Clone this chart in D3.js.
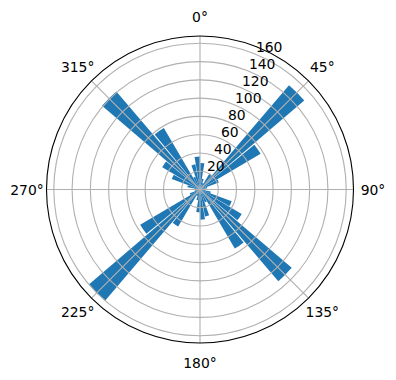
<!DOCTYPE html>
<html>
<head>
<meta charset="utf-8">
<script src="https://cdn.jsdelivr.net/npm/d3@7"></script>
<style>
  html, body { margin: 0; padding: 0; background: #fff; }
  svg text { font-family: "DejaVu Sans", sans-serif; }
</style>
</head>
<body>
<div id="container"></div>
<script>
const width = 396;
const height = 380;
const cx = 200;
const cy = 189.5;
const outerR = 153.5;

// bin centres (degrees, clockwise from north) and counts
const binCenters = [5, 15, 25, 35, 45, 55, 65, 75, 85, 95, 105, 115,
  125, 135, 145, 155, 165, 175, 185, 195, 205, 215, 225, 235,
  245, 255, 265, 275, 285, 295, 305, 315, 325, 335, 345, 355];
const counts = [29, 12, 8, 20, 150, 77, 22, 8, 5, 6, 12, 37,
  53, 132, 75, 15, 30, 33, 25, 12, 8, 47, 160, 76,
  12, 6, 5, 6, 14, 33, 48, 141, 78, 15, 28, 36];
const binWidth = 9; // degrees
const rTicks = [20, 40, 60, 80, 100, 120, 140, 160];
const thetaTicks = [0, 45, 90, 135, 180, 225, 270, 315];
const rMax = 168;

const rad = d => d * Math.PI / 180;

const r = d3.scaleLinear().domain([0, rMax]).range([0, outerR]);

const svg = d3.select("#container")
  .append("svg")
  .attr("width", width)
  .attr("height", height);

const g = svg.append("g").attr("transform", `translate(${cx},${cy})`);

const arc = d3.arc()
  .innerRadius(0)
  .outerRadius(d => r(d.v))
  .startAngle(d => rad(d.c - binWidth / 2))
  .endAngle(d => rad(d.c + binWidth / 2));

g.selectAll("path.bar")
  .data(binCenters.map((c, i) => ({ c, v: counts[i] })))
  .enter()
  .append("path")
  .attr("class", "bar")
  .attr("d", arc)
  .attr("fill", "#1f77b4");

// grid circles
g.selectAll("circle.grid")
  .data(rTicks)
  .enter()
  .append("circle")
  .attr("r", d => r(d))
  .attr("fill", "none")
  .attr("stroke", "#b0b0b0")
  .attr("stroke-width", 1.1);

// spokes
g.selectAll("line.spoke")
  .data(thetaTicks)
  .enter()
  .append("line")
  .attr("x1", 0).attr("y1", 0)
  .attr("x2", d => outerR * Math.sin(rad(d)))
  .attr("y2", d => -outerR * Math.cos(rad(d)))
  .attr("stroke", "#b0b0b0")
  .attr("stroke-width", 1.1);

// outer frame
g.append("circle")
  .attr("r", outerR)
  .attr("fill", "none")
  .attr("stroke", "#000")
  .attr("stroke-width", 1.1);

// theta labels
const labR = outerR + 19.5;
g.selectAll("text.theta")
  .data(thetaTicks)
  .enter()
  .append("text")
  .attr("x", d => labR * Math.sin(rad(d)))
  .attr("y", d => -labR * Math.cos(rad(d)))
  .attr("text-anchor", "middle")
  .attr("dominant-baseline", "central")
  .attr("font-size", "13.9px")
  .text(d => `${d}°`);

// radial labels at 22.5°
g.selectAll("text.rlab")
  .data(rTicks)
  .enter()
  .append("text")
  .attr("x", d => r(d) * Math.sin(rad(22.5)))
  .attr("y", d => -r(d) * Math.cos(rad(22.5)) - 2)
  .attr("text-anchor", "start")
  .attr("font-size", "13.9px")
  .text(d => d);
</script>
</body>
</html>
